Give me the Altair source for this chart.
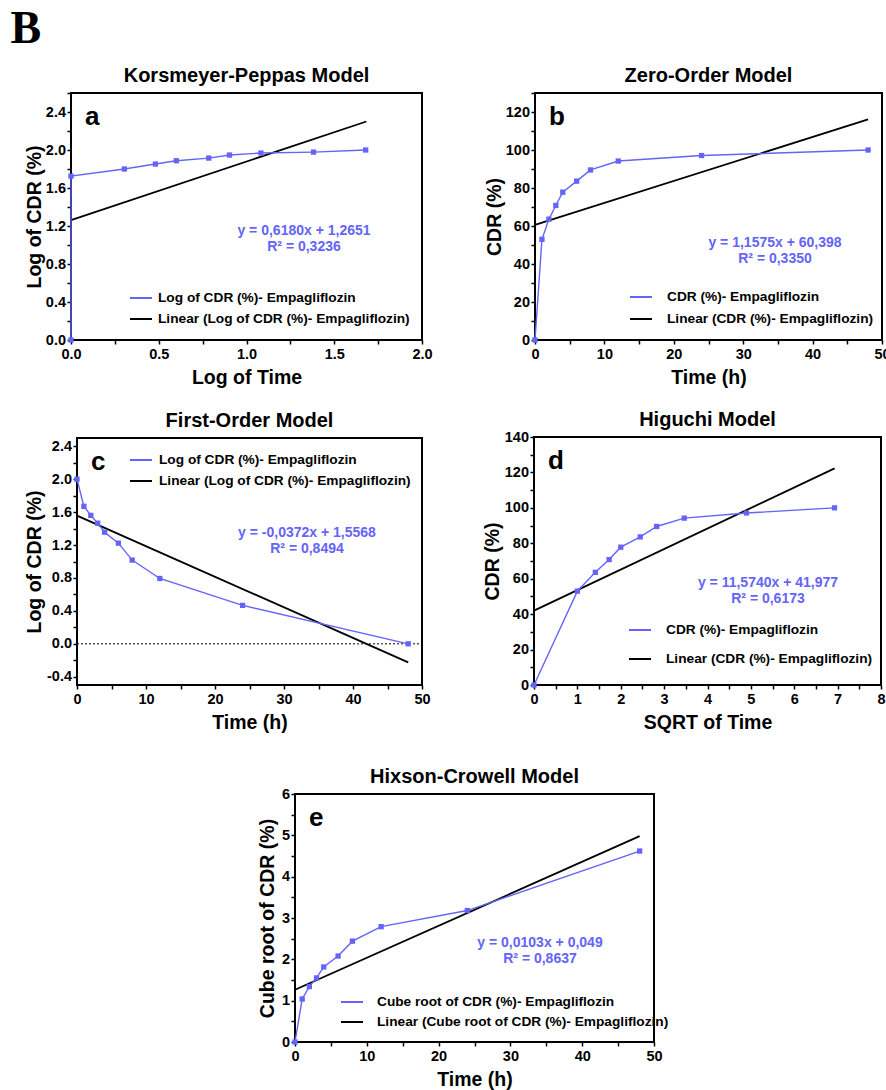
import altair as alt
import pandas as pd

BLUE = "#6464f8"
FONT = "Liberation Sans"

# ---------------- data ----------------
time_h = [0, 1, 2, 3, 4, 6, 8, 12, 24, 48]
cdr = [0, 53.0, 63.6, 70.8, 77.8, 83.6, 89.5, 94.2, 97.1, 100.0]
log_time = [0, 0, 0.304, 0.481, 0.600, 0.785, 0.903, 1.082, 1.382, 1.679]
log_cdr = [0, 1.725, 1.800, 1.852, 1.887, 1.915, 1.947, 1.968, 1.978, 2.0]
sqrt_time = [0, 1, 1.414, 1.732, 2.0, 2.449, 2.828, 3.464, 4.899, 6.928]
log_remaining = [2.0, 1.67, 1.56, 1.465, 1.356, 1.223, 1.017, 0.794, 0.467, 0.0]
cube_root = [0, 1.04, 1.34, 1.55, 1.815, 2.08, 2.44, 2.79, 3.18, 4.62]

fit_a_x, fit_a_y = [0, 1.683], [1.262, 2.30]
fit_b_x, fit_b_y = [0, 48.0], [60.6, 116.1]
fit_c_x, fit_c_y = [0, 48.0], [1.557, -0.226]
fit_d_x, fit_d_y = [0, 6.93], [41.98, 122.3]
fit_e_x, fit_e_y = [0, 48.0], [1.265, 4.98]

titles = ["Korsmeyer-Peppas Model", "Zero-Order Model", "First-Order Model",
          "Higuchi Model", "Hixson-Crowell Model"]
letters = ["a", "b", "c", "d", "e"]
x_titles = ["Log of Time", "Time (h)", "Time (h)", "SQRT of Time", "Time (h)"]
y_titles = ["Log of CDR (%)", "CDR (%)", "Log of CDR (%)", "CDR (%)", "Cube root of CDR (%)"]
legend_labels = [
    ["Log of CDR (%)- Empagliflozin", "Linear (Log of CDR (%)- Empagliflozin)"],
    ["CDR (%)- Empagliflozin", "Linear (CDR (%)- Empagliflozin)"],
    ["Log of CDR (%)- Empagliflozin", "Linear (Log of CDR (%)- Empagliflozin)"],
    ["CDR (%)- Empagliflozin", "Linear (CDR (%)- Empagliflozin)"],
    ["Cube root of CDR (%)- Empagliflozin", " Linear (Cube root of CDR (%)- Empagliflozin)"],
]
equations = [
    ["y = 0,6180x + 1,2651", "R\u00b2 = 0,3236"],
    ["y = 1,1575x + 60,398", "R\u00b2 = 0,3350"],
    ["y = -0,0372x + 1,5568", "R\u00b2 = 0,8494"],
    ["y = 11,5740x + 41,977", "R\u00b2 = 0,6173"],
    ["y = 0,0103x + 0,049", "R\u00b2 = 0,8637"],
]


def steps(lo, hi, step):
    n = int(round((hi - lo) / step))
    return [round(lo + i * step, 6) for i in range(n + 1)]


def label_expr(majors, decimals):
    arr = "[" + ",".join(repr(v) for v in majors) + "]"
    f = "format(abs(datum.value), 'd')" if decimals == 0 else \
        "format(abs(datum.value), '.%df')" % decimals
    return ("indexof(%s, datum.value) >= 0 ? (datum.value < 0 ? '-' : '') + %s : ''"
            % (arr, f))


panels = [
    dict(x=log_time, y=log_cdr, fx=fit_a_x, fy=fit_a_y,
         xd=[0, 2], yd=[0, 2.6], box=(71, 422, 93, 340),
         xt=(steps(0, 2, 0.25), steps(0, 2, 0.5), 1),
         yt=(steps(0, 2.6, 0.2), steps(0, 2.4, 0.4), 1),
         ytx=-31, leg=(59, 81, 87, 205, 226), eq=(233, 138, 154), zero=False),
    dict(x=time_h, y=cdr, fx=fit_b_x, fy=fit_b_y,
         xd=[0, 50], yd=[0, 130], box=(535, 882, 93, 340),
         xt=(steps(0, 50, 5), steps(0, 50, 10), 0),
         yt=(steps(0, 130, 10), steps(0, 120, 20), 0),
         ytx=-35, leg=(95, 117, 132, 204, 226), eq=(240, 150, 166), zero=False),
    dict(x=time_h, y=log_remaining, fx=fit_c_x, fy=fit_c_y,
         xd=[0, 50], yd=[-0.5, 2.5], box=(77, 422, 438, 685),
         xt=(steps(0, 50, 5), steps(0, 50, 10), 0),
         yt=(steps(-0.4, 2.4, 0.2), steps(-0.4, 2.4, 0.4), 1),
         ytx=-37, leg=(53, 75, 82, 22, 43), eq=(230, 95, 111), zero=True),
    dict(x=sqrt_time, y=cdr, fx=fit_d_x, fy=fit_d_y,
         xd=[0, 8], yd=[0, 140], box=(534, 881, 437, 685),
         xt=(steps(0, 8, 0.5), steps(0, 8, 1), 0),
         yt=(steps(0, 140, 10), steps(0, 140, 20), 0),
         ytx=-36, leg=(95, 117, 132, 193, 222), eq=(234, 146, 162), zero=False),
    dict(x=time_h, y=cube_root, fx=fit_e_x, fy=fit_e_y,
         xd=[0, 50], yd=[0, 6], box=(295, 654, 794, 1042),
         xt=(steps(0, 50, 5), steps(0, 50, 10), 0),
         yt=(steps(0, 6, 0.5), steps(0, 6, 1), 0),
         ytx=-22, leg=(46, 68, 82, 208, 228), eq=(245, 149, 165), zero=False),
]

W, H = 886, 1090


def txt(s, x, y, size, color="black", align="left", baseline="alphabetic",
        font=FONT, weight="bold"):
    return alt.Chart(pd.DataFrame({"t": [s]})).mark_text(
        align=align, baseline=baseline, font=font, fontSize=size,
        fontWeight=weight, color=color
    ).encode(x=alt.value(x), y=alt.value(y), text="t:N")


layers = [txt("B", 10.5, 42.7, 46, font="Liberation Serif")]

for k, p in enumerate(panels):
    x0, x1, y0, y1 = p["box"]
    sx = alt.Scale(domain=p["xd"], range=[x0, x1], nice=False, zero=False)
    sy = alt.Scale(domain=p["yd"], range=[y1, y0], nice=False, zero=False)
    xall, xmaj, xdec = p["xt"]
    yall, ymaj, ydec = p["yt"]
    common = dict(tickSize=4, tickWidth=1.5, tickColor="black", domain=False,
                  grid=False, labelFont=FONT, labelFontSize=14.5,
                  labelFontWeight="bold", labelColor="black",
                  labelOverlap=False, labelFlush=False,
                  titleFont=FONT, titleFontSize=19.5, titleFontWeight="bold",
                  titleColor="black", titleBaseline="alphabetic")
    ax = alt.Axis(orient="bottom", offset=y1 - H, values=xall,
                  labelExpr=label_expr(xmaj, xdec), labelPadding=3,
                  title=x_titles[k], titleY=43, **common)
    ay = alt.Axis(orient="left", offset=-x0, values=yall,
                  labelExpr=label_expr(ymaj, ydec), labelPadding=1.5,
                  title=y_titles[k], titleX=p["ytx"], **common)

    df = pd.DataFrame({"x": p["x"], "y": p["y"], "i": list(range(len(p["x"])))})
    dfit = pd.DataFrame({"x": p["fx"], "y": p["fy"]})

    frame = alt.Chart(pd.DataFrame({"a": [0]})).mark_rect(
        filled=False, color="black", strokeWidth=2
    ).encode(
        x=alt.X(datum=p["xd"][0], scale=sx, axis=None),
        x2=alt.X2(datum=p["xd"][1]),
        y=alt.Y(datum=p["yd"][0], scale=sy, axis=None),
        y2=alt.Y2(datum=p["yd"][1]),
    )
    line = alt.Chart(df).mark_line(color=BLUE, strokeWidth=1.4).encode(
        x=alt.X("x:Q", scale=sx, axis=ax),
        y=alt.Y("y:Q", scale=sy, axis=ay),
        order="i:Q",
    )
    pts = alt.Chart(df).mark_point(shape="square", filled=True, size=28,
                                   color=BLUE, opacity=1).encode(
        x=alt.X("x:Q", scale=sx, axis=None),
        y=alt.Y("y:Q", scale=sy, axis=None),
    )
    fit = alt.Chart(dfit).mark_line(color="black", strokeWidth=1.8).encode(
        x=alt.X("x:Q", scale=sx, axis=None),
        y=alt.Y("y:Q", scale=sy, axis=None),
    )
    panel_layers = [frame]
    if p["zero"]:
        zero = alt.Chart(pd.DataFrame({"a": [0]})).mark_rule(
            color="black", strokeWidth=1, strokeDash=[2, 2]
        ).encode(
            x=alt.X(datum=p["xd"][0], scale=sx, axis=None),
            x2=alt.X2(datum=p["xd"][1]),
            y=alt.Y(datum=0, scale=sy, axis=None),
        )
        panel_layers.append(zero)
    panel_layers += [fit, line, pts]

    # title, letter, equation
    panel_layers.append(txt(titles[k], (x0 + x1) / 2, y0 - 11, 20, align="center"))
    panel_layers.append(txt(letters[k], x0 + 14, y0 + 32, 26))
    ex, ey1, ey2 = p["eq"]
    panel_layers.append(txt(equations[k][0], x0 + ex, y0 + ey1, 14, color=BLUE,
                            align="center", baseline="middle"))
    panel_layers.append(txt(equations[k][1], x0 + ex, y0 + ey2, 14, color=BLUE,
                            align="center", baseline="middle"))
    # legend
    lx0, lx1, ltx, ly1, ly2 = p["leg"]
    for lab, col, ly in zip(legend_labels[k], [BLUE, "black"], [ly1, ly2]):
        panel_layers.append(
            alt.Chart(pd.DataFrame({"a": [0]})).mark_rule(color=col, strokeWidth=2).encode(
                x=alt.value(x0 + lx0), x2=alt.value(x0 + lx1), y=alt.value(y0 + ly)))
        panel_layers.append(txt(lab, x0 + ltx, y0 + ly, 13.7, baseline="middle"))
    layers += panel_layers

chart = alt.layer(*layers).resolve_scale(x="independent", y="independent").properties(
    width=W, height=H, autosize=alt.AutoSizeParams(type="none"), padding=0
).configure_view(stroke=None)

chart.save("out.html", embed_options={"renderer": "svg", "actions": False})
